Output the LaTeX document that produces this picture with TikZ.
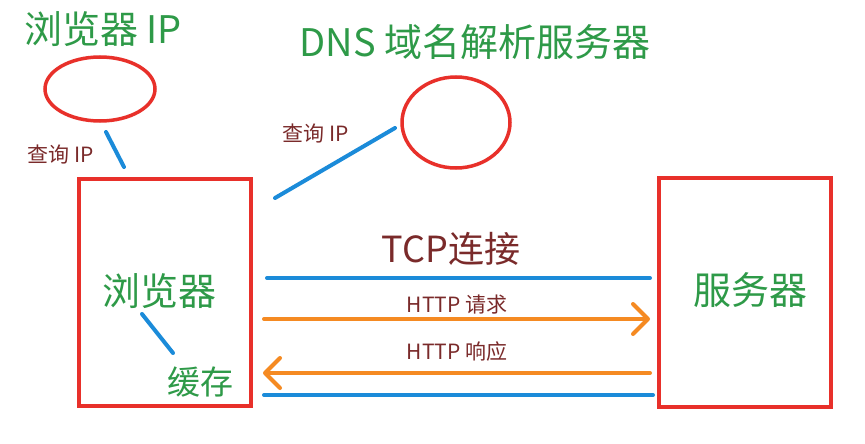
\documentclass[tikz,border=0pt]{standalone}
\usepackage{fontspec}
\setmainfont{Noto Sans CJK SC}
\usetikzlibrary{arrows.meta,shapes.geometric}
\definecolor{boxred}{HTML}{E8302A}
\definecolor{lineblue}{HTML}{1B8BD9}
\definecolor{arrorange}{HTML}{F58A22}
\definecolor{titlegreen}{HTML}{2E9A48}
\definecolor{labelred}{HTML}{7A2A2A}
\begin{document}
\begin{tikzpicture}[x=1pt,y=-1pt,
  redbox/.style={draw=boxred,line width=4pt,minimum width=172pt,inner sep=0pt},
  redell/.style={draw=boxred,line width=3.5pt,ellipse,inner sep=0pt},
  bigtext/.style={text=titlegreen,inner sep=0pt,font=\fontsize{38}{40}\selectfont},
  midtext/.style={text=titlegreen,inner sep=0pt,font=\fontsize{33}{35}\selectfont},
  tcptext/.style={text=labelred,inner sep=0pt,font=\fontsize{36}{38}\selectfont},
  smalltext/.style={text=labelred,inner sep=0pt,font=\fontsize{21}{23}\selectfont},
  blueline/.style={draw=lineblue,line width=4pt,line cap=round},
  orangearrow/.style={draw=arrorange,line width=4pt,line cap=round,
    -{Straight Barb[length=15pt,width=30pt,round]}}]
\fill[white] (0,0) rectangle (865,444);
\useasboundingbox (0,0) rectangle (865,444);
% boxes
\node[redbox,minimum height=227pt] (lbox) at (165,292.5) {};
\node[redbox,minimum height=229pt] (rbox) at (745,292.5) {};
% ellipses
\node[redell,minimum width=110pt,minimum height=64pt] (lell) at (100,89) {};
\node[redell,minimum width=108pt,minimum height=91pt] (dns) at (456,122.5) {};
% titles
\node[bigtext] (ltitle) at (103,29) {浏览器 IP};
\node[bigtext] (dnstitle) at (475,42) {DNS 域名解析服务器};
\node[bigtext] (browser) at (159,291) {浏览器};
\node[midtext] (cache) at (200,382) {缓存};
\node[bigtext] (server) at (750,290) {服务器};
\node[smalltext] (q1) at (61,154) {查询 IP};
\node[smalltext] (q2) at (316,133) {查询 IP};
\node[tcptext] (tcp) at (451,249) {TCP连接};
\node[smalltext] (req) at (457,305) {HTTP 请求};
\node[smalltext] (resp) at (457,352) {HTTP 响应};
% connector end points
\coordinate (a1) at (106,132);
\coordinate (a2) at (124,167);
\coordinate (b1) at (275,198);
\coordinate (b2) at (395,128);
\coordinate (c1) at (142,314);
\coordinate (c2) at (173,353);
\coordinate (t1l) at (267,278);
\coordinate (t1r) at (650,278);
\coordinate (h1l) at (264,319);
\coordinate (h1r) at (650,319);
\coordinate (h2l) at (263,373);
\coordinate (h2r) at (650,373);
\coordinate (t2l) at (264,395);
\coordinate (t2r) at (653,395);
% connectors
\draw[blueline] (a1) -- (a2);
\draw[blueline] (b1) -- (b2);
\draw[blueline] (c1) -- (c2);
\draw[blueline] (t1l) -- (t1r);
\draw[orangearrow] (h1l) -- (h1r);
\draw[orangearrow] (h2r) -- (h2l);
\draw[blueline] (t2l) -- (t2r);
\end{tikzpicture}
\end{document}
